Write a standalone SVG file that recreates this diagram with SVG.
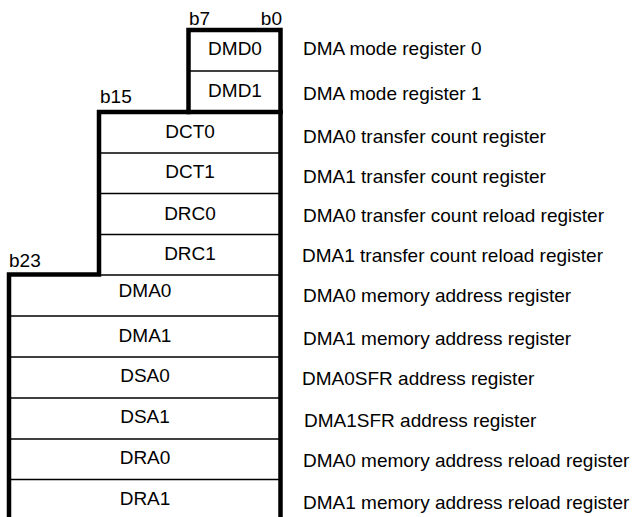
<svg xmlns="http://www.w3.org/2000/svg" width="635" height="517" viewBox="0 0 635 517">
<style>
text{font-family:"Liberation Sans",Arial,sans-serif;font-size:19px;fill:#000}
.c{text-anchor:middle}
.thin{stroke:#000;stroke-width:1.3;fill:none}
.thick{stroke:#000;stroke-width:4.5;fill:none;stroke-linejoin:miter;stroke-linecap:square}
</style>
<rect width="635" height="517" fill="#fff"/>
<g id="separators">
<line class="thin" x1="189" y1="71" x2="280" y2="71"/>
<line class="thin" x1="99" y1="153" x2="280" y2="153"/>
<line class="thin" x1="99" y1="193.5" x2="280" y2="193.5"/>
<line class="thin" x1="99" y1="234.5" x2="280" y2="234.5"/>
<line class="thin" x1="99" y1="275" x2="280" y2="275"/>
<line class="thin" x1="9" y1="316" x2="280" y2="316"/>
<line class="thin" x1="9" y1="357" x2="280" y2="357"/>
<line class="thin" x1="9" y1="398" x2="280" y2="398"/>
<line class="thin" x1="9" y1="439" x2="280" y2="439"/>
<line class="thin" x1="9" y1="479.5" x2="280" y2="479.5"/>
</g>
<g id="outline">
<path class="thick" d="M9 520 V274.5 H99 V112 H188.5 V30 H280.5 V520"/>
<line class="thick" x1="188.5" y1="112" x2="280.5" y2="112"/>
</g>
<g id="bits">
<text x="189" y="25">b7</text>
<text x="282" y="25" text-anchor="end">b0</text>
<text x="100" y="103">b15</text>
<text x="9" y="267">b23</text>
</g>
<g id="DMD0"><text class="c" x="235" y="55">DMD0</text><text x="303" y="55">DMA mode register 0</text></g>
<g id="DMD1"><text class="c" x="235" y="97">DMD1</text><text x="303" y="100">DMA mode register 1</text></g>
<g id="DCT0"><text class="c" x="190" y="138">DCT0</text><text x="303" y="143">DMA0 transfer count register</text></g>
<g id="DCT1"><text class="c" x="190" y="178">DCT1</text><text x="303" y="183">DMA1 transfer count register</text></g>
<g id="DRC0"><text class="c" x="190" y="220">DRC0</text><text x="303" y="222">DMA0 transfer count reload register</text></g>
<g id="DRC1"><text class="c" x="190" y="260">DRC1</text><text x="302" y="262">DMA1 transfer count reload register</text></g>
<g id="DMA0"><text class="c" x="145" y="297">DMA0</text><text x="303" y="302">DMA0 memory address register</text></g>
<g id="DMA1"><text class="c" x="145" y="342">DMA1</text><text x="303" y="345">DMA1 memory address register</text></g>
<g id="DSA0"><text class="c" x="145" y="382">DSA0</text><text x="302" y="385">DMA0SFR address register</text></g>
<g id="DSA1"><text class="c" x="145" y="423">DSA1</text><text x="304" y="427">DMA1SFR address register</text></g>
<g id="DRA0"><text class="c" x="145" y="464">DRA0</text><text x="303" y="467">DMA0 memory address reload register</text></g>
<g id="DRA1"><text class="c" x="145" y="505">DRA1</text><text x="303" y="509">DMA1 memory address reload register</text></g>
</svg>
